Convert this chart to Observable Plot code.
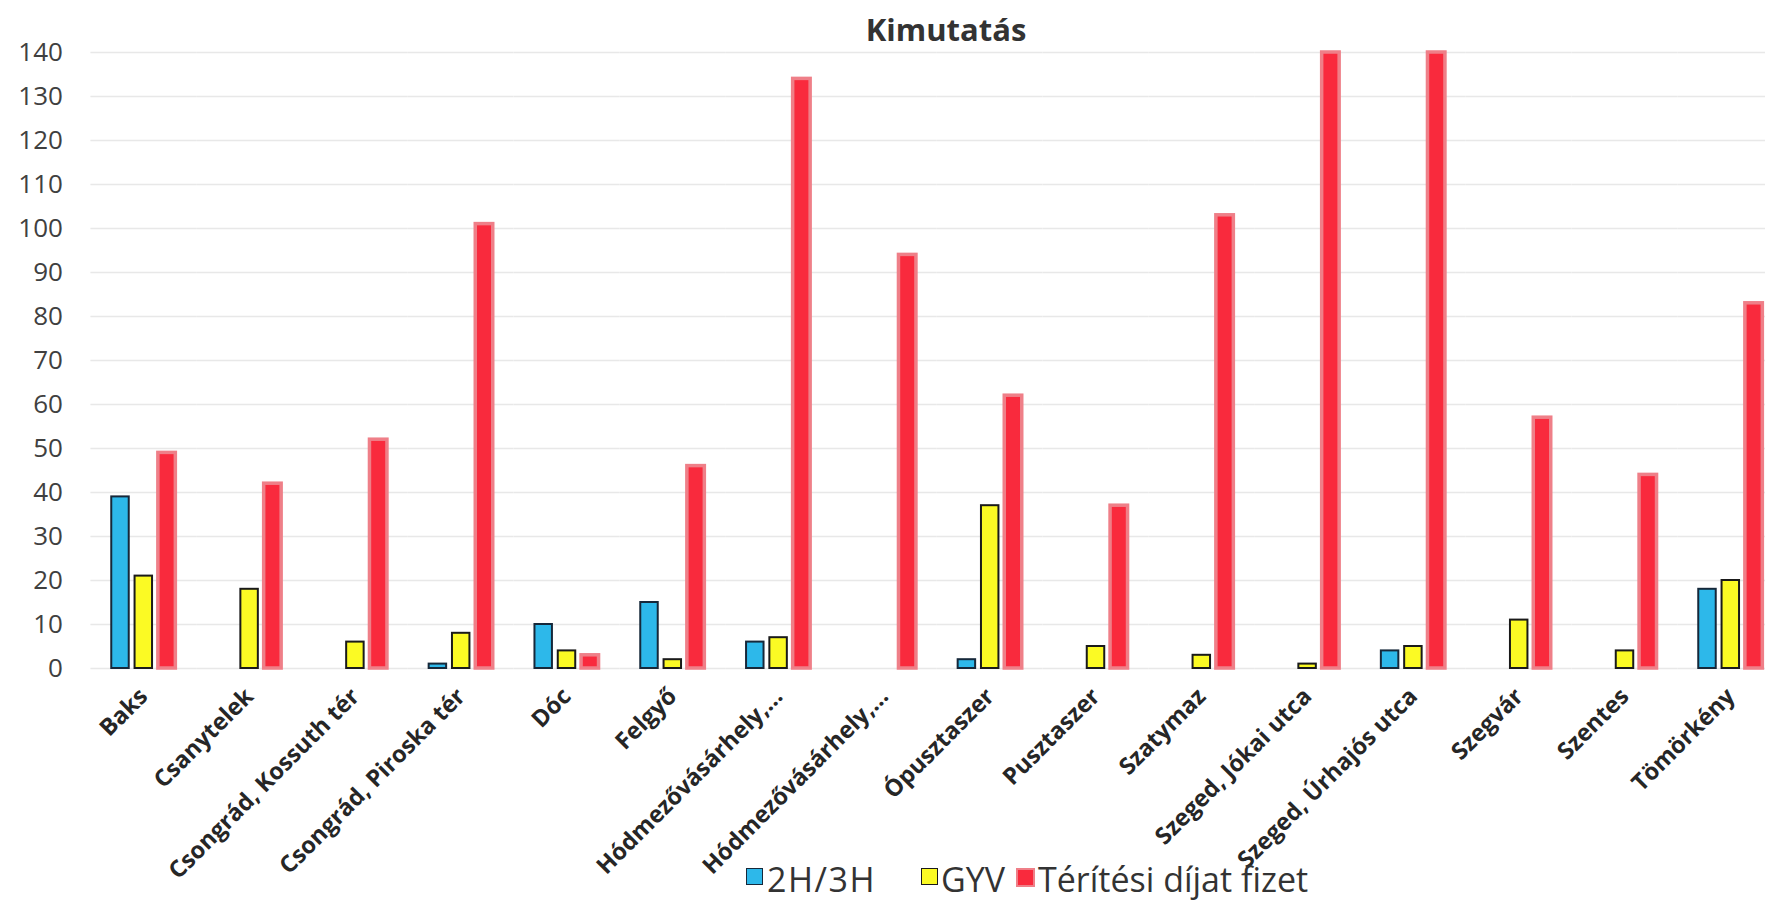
<!DOCTYPE html>
<html>
<head>
<meta charset="utf-8">
<script src="https://cdn.jsdelivr.net/npm/d3@7"></script>
<script src="https://cdn.jsdelivr.net/npm/@observablehq/plot@0.6"></script>
<style>
  html, body { margin: 0; padding: 0; background: #fff; }
  body { width: 1765px; height: 913px; overflow: hidden; position: relative; font-family: "Open Sans", sans-serif; }
  #title { position: absolute; left: 946px; top: 9px; transform: translateX(-50%); font-size: 31px; line-height: 40px; font-weight: bold; color: #333; white-space: nowrap; z-index: 2; }
  #chart { position: absolute; left: 0; top: 0; }
  #legend { position: absolute; left: 0; top: 862px; height: 34px; width: 1765px; font-size: 34px; color: #333; z-index: 2; }
  .item { position: absolute; top: 0; height: 34px; line-height: 34px; white-space: nowrap; }
  .sw { position: absolute; top: 6px; width: 15px; height: 15px; box-sizing: content-box; }
</style>
</head>
<body>
<div id="chart"></div>
<div id="title"></div>
<div id="legend"></div>
<script>
// ---- data ----
const categoryKeys = [
  "Baks", "Csanytelek", "Csongrád, Kossuth tér", "Csongrád, Piroska tér", "Dóc", "Felgyő",
  "Hódmezővásárhely #1", "Hódmezővásárhely #2", "Ópusztaszer", "Pusztaszer", "Szatymaz",
  "Szeged, Jókai utca", "Szeged, Úrhajós utca", "Szegvár", "Szentes", "Tömörkény"
];
const categoryLabels = [
  "Baks", "Csanytelek", "Csongrád, Kossuth tér", "Csongrád, Piroska tér", "Dóc", "Felgyő",
  "Hódmezővásárhely,...", "Hódmezővásárhely,...", "Ópusztaszer", "Pusztaszer", "Szatymaz",
  "Szeged, Jókai utca", "Szeged, Úrhajós utca", "Szegvár", "Szentes", "Tömörkény"
];
const seriesNames = ["2H/3H", "GYV", "Térítési díjat fizet"];
const values2H3H = [39, null, null, 1, 10, 15, 6, null, 2, null, null, null, 4, null, null, 18];
const valuesGYV  = [21, 18, 6, 8, 4, 2, 7, null, 37, 5, 3, 1, 5, 11, 4, 20];
const valuesTerites = [49, 42, 52, 101, 3, 46, 134, 94, 62, 37, 103, 150, 150, 57, 44, 83];
const yTicks = [0, 10, 20, 30, 40, 50, 60, 70, 80, 90, 100, 110, 120, 130, 140];
const titleText = "Kimutatás";

// ---- build table ----
const seriesValues = [values2H3H, valuesGYV, valuesTerites];
const rows = [];
seriesNames.forEach((s, si) => {
  categoryKeys.forEach((c, ci) => {
    const v = seriesValues[si][ci];
    if (v != null) rows.push({cat: c, series: s, value: v});
  });
});
const labelOf = new Map(categoryKeys.map((k, i) => [k, categoryLabels[i]]));

const styles = {
  "2H/3H": {fill: "#2db8ea", stroke: "#16283a", strokeWidth: 2},
  "GYV": {fill: "#fbfa24", stroke: "#1a1a1a", strokeWidth: 2},
  "Térítési díjat fizet": {fill: "#f92a3d", stroke: "#ef7f88", strokeWidth: 3.5}
};

document.getElementById("title").textContent = titleText;

const chart = Plot.plot({
  width: 1765,
  height: 913,
  marginTop: 52,
  marginBottom: 245,
  marginLeft: 90.4,
  marginRight: 0,
  style: {fontFamily: "Open Sans, sans-serif", color: "#404040", background: "#fff", overflow: "visible"},
  fx: {domain: categoryKeys, range: [90.4, 1783.2], padding: 0, round: false, label: null, axis: null},
  x: {domain: seriesNames, paddingInner: 0.25, paddingOuter: 0.895, round: false, axis: null},
  y: {domain: [0, 140], clamp: true, axis: null, label: null},
  marks: [
    Plot.ruleY(yTicks, {stroke: "#e8e8e8", strokeWidth: 1.3}),
    ...seriesNames.map(s => Plot.barY(rows.filter(r => r.series === s), {
      fx: "cat", x: "series", y: "value", ...styles[s]
    })),
    Plot.axisY(yTicks, {tickSize: 0, tickPadding: 28, fontSize: 26, fill: "#404040", label: null}),
    Plot.axisFx({anchor: "bottom", tickRotate: -45, tickSize: 0, tickPadding: 24, fontSize: 23.5,
      fontWeight: "bold", fill: "#262626", label: null, tickFormat: d => labelOf.get(d)})
  ]
});
document.getElementById("chart").appendChild(chart);

// ---- legend ----
const legendX = [[746, 767], [921, 941], [1016, 1038]];
const legend = document.getElementById("legend");
seriesNames.forEach((s, i) => {
  const st = styles[s];
  const sw = document.createElement("div");
  sw.className = "sw";
  sw.style.left = legendX[i][0] + "px";
  sw.style.background = st.fill;
  sw.style.border = (i === 2 ? 2 : 1.5) + "px solid " + st.stroke;
  legend.appendChild(sw);
  const t = document.createElement("div");
  t.className = "item";
  t.style.left = legendX[i][1] + "px";
  if (i === 0) t.style.letterSpacing = "1.5px";
  t.textContent = s;
  legend.appendChild(t);
});
</script>
</body>
</html>
